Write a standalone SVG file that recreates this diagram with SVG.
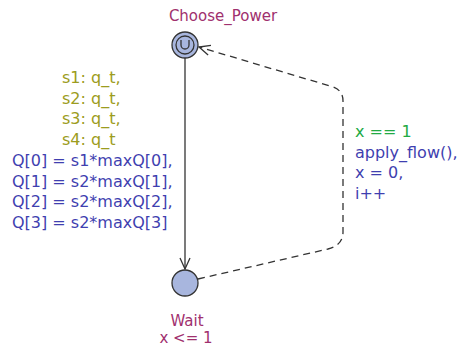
<svg xmlns="http://www.w3.org/2000/svg" width="460" height="349" viewBox="0 0 460 349">
<style>
text{font-family:"DejaVu Sans","Liberation Sans",sans-serif;font-size:16px}
.name{fill:#a0306e;font-size:15px}
.sel{fill:#9c9c20}
.asg{fill:#3f3fb0}
.grd{fill:#22aa44}
.loc{fill:#a8b6de;stroke:#333;stroke-width:1.3}
.edge{fill:none;stroke:#333;stroke-width:1.3}
.dash{stroke-dasharray:7,5}
</style>
<defs>
<marker id="arr" markerWidth="14" markerHeight="14" refX="12" refY="7" orient="auto" markerUnits="userSpaceOnUse">
<path d="M1,2 L12,7 L1,12" fill="none" stroke="#333" stroke-width="1.3"/>
</marker>
</defs>
<g id="connectors">
<path class="edge" d="M185,58 L185,269" marker-end="url(#arr)"/>
<path class="edge dash" d="M198,279 L328,249 Q343,245 343,232 L343,101 Q343,89 330,86 L199,47" marker-end="url(#arr)"/>
</g>
<g id="Choose_Power">
<circle class="loc" cx="185" cy="45" r="13"/>
<circle cx="185" cy="45" r="9" fill="none" stroke="#333" stroke-width="1.3"/>
<path d="M181,40 L181,45 A4,4 0 0 0 189,45 L189,40" fill="none" stroke="#333" stroke-width="1.3"/>
<text class="name" x="223" y="21" text-anchor="middle">Choose_Power</text>
</g>
<g id="Wait">
<circle class="loc" cx="185" cy="283" r="13"/>
<text class="name" x="187" y="326" text-anchor="middle">Wait</text>
<text class="name" x="186" y="343" text-anchor="middle">x &lt;= 1</text>
</g>
<g id="edge1-labels">
<text class="sel" x="62" y="83">s1: q_t,</text>
<text class="sel" x="62" y="103.7">s2: q_t,</text>
<text class="sel" x="62" y="124.4">s3: q_t,</text>
<text class="sel" x="62" y="145.1">s4: q_t</text>
<text class="asg" x="12" y="165.8">Q[0] = s1*maxQ[0],</text>
<text class="asg" x="12" y="186.5">Q[1] = s2*maxQ[1],</text>
<text class="asg" x="12" y="207.2">Q[2] = s2*maxQ[2],</text>
<text class="asg" x="12" y="228">Q[3] = s2*maxQ[3]</text>
</g>
<g id="edge2-labels">
<text class="grd" x="355" y="137">x == 1</text>
<text class="asg" x="355" y="157.7">apply_flow(),</text>
<text class="asg" x="355" y="178.4">x = 0,</text>
<text class="asg" x="355" y="199">i++</text>
</g>
</svg>
